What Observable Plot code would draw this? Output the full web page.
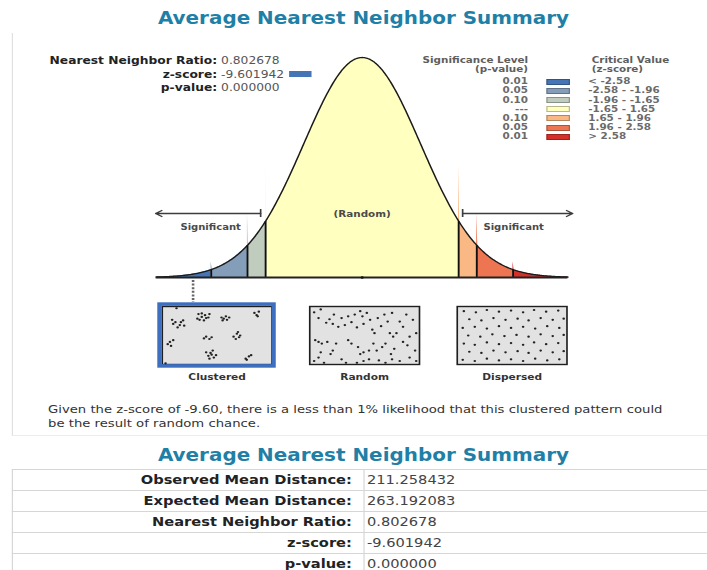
<!DOCTYPE html>
<html>
<head>
<meta charset="utf-8">
<script src="https://cdn.jsdelivr.net/npm/d3@7"></script>
<script src="https://cdn.jsdelivr.net/npm/@observablehq/plot@0.6"></script>
<style>
html,body{margin:0;padding:0;background:#fff;}
body{width:707px;height:570px;overflow:hidden;position:relative;}
#stage{position:absolute;left:0;top:0;width:599px;height:570px;transform:scaleX(1.18);transform-origin:0 0;font-family:"DejaVu Sans",Verdana,sans-serif;color:#333;}
.abs{position:absolute;white-space:nowrap;}
.title{left:0;width:616px;text-align:center;font-size:16.9px;line-height:20px;font-weight:bold;color:#1f7fa6;}
.panel{position:absolute;left:10.2px;top:33px;width:588.8px;height:402px;border-left:1px solid #e0e0e0;border-bottom:1px solid #ececec;}
.stat{left:0;font-size:10.4px;line-height:13.5px;}
.stat .lab{display:inline-block;width:184px;text-align:right;font-weight:bold;color:#222;}
.stat .val{margin-left:3.4px;color:#555;}
.zsw{display:inline-block;width:18.6px;height:6px;margin-left:4.2px;vertical-align:1px;}
.leg{font-size:8.8px;line-height:9px;font-weight:bold;color:#6a6a6a;}
.legR{left:347.5px;width:100px;text-align:right;}
.sw{position:absolute;left:463.3px;width:19.8px;height:6px;box-sizing:border-box;border:1px solid rgba(0,0,0,.28);}
.cap{left:40.7px;font-size:11.2px;line-height:13.5px;color:#333;}
.row{position:absolute;left:10.2px;width:588.8px;height:21px;border-top:1px solid #d6d6d6;box-sizing:border-box;}
.rlab{position:absolute;left:0;width:288px;text-align:right;font-weight:bold;font-size:12.4px;line-height:20px;color:#222;white-space:nowrap;}
.rval{position:absolute;left:300.8px;font-size:12.4px;line-height:20px;color:#444;white-space:nowrap;}
.vline{position:absolute;width:0;border-left:1px solid #d6d6d6;}
</style>
</head>
<body>
<div id="stage"></div>
<script>
// ---------- data ----------
const titleText = "Average Nearest Neighbor Summary";
const statLabels = ["Nearest Neighbor Ratio:", "z-score:", "p-value:"];
const statValues = ["0.802678", "-9.601942", "0.000000"];
const zScore = -9.601942;

const legendHeadLeft = ["Significance Level", "(p-value)"];
const legendHeadRight = ["Critical Value", "(z-score)"];
const pLevels = ["0.01", "0.05", "0.10", "---", "0.10", "0.05", "0.01"];
const zRanges = ["< -2.58", "-2.58 - -1.96", "-1.96 - -1.65", "-1.65 - 1.65", "1.65 - 1.96", "1.96 - 2.58", "> 2.58"];
const binColors = ["#4575b5", "#849eba", "#c0ccbe", "#ffffbf", "#fab984", "#ed7551", "#d62f27"];
const zBreaks = [-3.52, -2.58, -1.96, -1.65, 1.65, 1.96, 2.58, 3.52];

const sigArrows = [{from: -1.735, to: -3.53}, {from: 1.718, to: 3.60}];
const sigLabels = [{z: -2.59, text: "Significant"}, {z: 2.59, text: "Significant"}];
const randomLabel = "(Random)";
const indicatorZ = -2.89; // where the reference draws the off-scale z-score pointer

const patterns = ["Clustered", "Random", "Dispersed"];
const clusteredPts = [
 [9,23],[12,27],[16,32],[19,24],[20,33],[14,36],[10,30],[17,27],
 [33,13],[36,18],[39,15],[42,19],[34,23],[38,24],[43,13],[32,21],[40,20],[36,12],
 [54,19],[56,21],[59,23],[61,19],[55,24],[58,17],
 [84,11],[86,15],[88,9],[87,17],
 [5,65],[7,61],[10,58],[8,68],
 [38,55],[40,52],[43,56],[45,53],
 [65,52],[68,47],[70,53],[71,50],[67,56],[69,44],
 [40,79],[42,85],[44,80],[47,88],[49,84],[43,90],[46,76],[45,83],
 [76,90],[79,86],[81,84],[77,92],
 [13,3],[3,98]
];
const randomPts = [
 [4,10],[8,20],[10,5],[15,28],[18,22],[21,30],[22,14],[26,35],[29,20],[32,32],[35,17],[38,27],[41,14],[43,36],[46,8],[48,17],[49,30],[52,11],[55,23],[57,40],[59,46],[62,20],[65,34],[68,14],[71,26],[73,46],[75,11],[76,52],[79,46],[82,26],[85,35],[88,14],[91,52],[94,23],[97,46],
 [5,58],[8,61],[11,64],[16,61],[21,76],[24,64],[35,58],[38,64],[44,70],[46,82],[49,79],[54,76],[58,64],[61,76],[66,70],[69,64],[74,82],[77,73],[85,61],[89,67],[96,76],[10,79],
 [4,94],[8,88],[13,97],[19,82],[29,91],[33,97],[43,97],[49,94],[54,91],[63,93],[69,97],[75,91],[82,94],[91,88],[97,94]
];
const dispersedPts = [
 [6,8],[17,10],[27,6],[38,9],[49,7],[60,10],[70,6],[81,9],[92,7],
 [11,22],[22,24],[33,20],[44,23],[55,21],[65,24],[76,20],[87,23],[97,21],
 [5,37],[16,35],[27,38],[38,34],[49,37],[60,35],[71,38],[82,34],[93,37],
 [10,50],[21,52],[32,48],[43,51],[54,49],[65,52],[76,48],[87,51],[97,49],
 [6,64],[16,66],[27,62],[38,65],[49,63],[60,66],[70,62],[81,65],[92,63],
 [11,78],[22,80],[33,76],[44,79],[55,77],[65,80],[76,76],[87,79],[97,77],
 [5,92],[16,94],[27,90],[38,93],[49,91],[60,94],[71,90],[82,93],[93,91]
];

const captionLines = [
 "Given the z-score of -9.60, there is a less than 1% likelihood that this clustered pattern could",
 "be the result of random chance."
];
const summaryLabels = ["Observed Mean Distance:", "Expected Mean Distance:", "Nearest Neighbor Ratio:", "z-score:", "p-value:"];
const summaryValues = ["211.258432", "263.192083", "0.802678", "-9.601942", "0.000000"];

// ---------- helpers ----------
const stage = document.getElementById("stage");
function el(tag, cls, css, text) {
  const e = document.createElement(tag);
  if (cls) e.className = cls;
  if (css) Object.assign(e.style, css);
  if (text != null) e.textContent = text;
  stage.appendChild(e);
  return e;
}
const pdf = z => Math.exp(-z * z / 2) / Math.sqrt(2 * Math.PI);

// ---------- title ----------
el("div", "abs title", {top: "8px"}, titleText);

// ---------- bell curve plot ----------
const areaPts = [];
for (let i = 0; i < zBreaks.length - 1; i++) {
  const z0 = zBreaks[i], z1 = zBreaks[i + 1];
  const n = Math.max(2, Math.ceil((z1 - z0) / 0.02));
  for (let k = 0; k <= n; k++) {
    const z = z0 + (z1 - z0) * k / n;
    areaPts.push({bin: i, z, d: pdf(z)});
  }
}
const curvePts = [];
{
  const n = 400, a = zBreaks[0], b = zBreaks[zBreaks.length - 1];
  for (let k = 0; k <= n; k++) { const z = a + (b - a) * k / n; curvePts.push({z, d: pdf(z)}); }
}
const boundaries = zBreaks.slice(1, -1).map(z => ({z, d: pdf(z)}));
const peak = pdf(0);
const pxPerD = 220 / peak;            // plot inner height is 220px
const arrowY = 64 / pxPerD;
const randomY = 63 / pxPerD;
const labelY = 50 / pxPerD;
const tickH = 4 / pxPerD;
const dropTop = -3 / pxPerD;
const dropBottom = -25 / pxPerD;

const curvePlot = Plot.plot({
  width: 599, height: 265,
  marginLeft: 131.9, marginRight: 118.1, marginTop: 22, marginBottom: 23,
  x: {domain: [zBreaks[0], zBreaks[zBreaks.length - 1]], axis: null},
  y: {domain: [0, peak], axis: null},
  color: {type: "ordinal", domain: d3.range(binColors.length), range: binColors},
  style: {fontFamily: "DejaVu Sans, sans-serif", background: "none", overflow: "visible"},
  marks: [
    Plot.areaY(areaPts, {x: "z", y: "d", fill: "bin"}),
    Plot.line(curvePts, {x: "z", y: "d", stroke: "#1a1a1a", strokeWidth: 1.3}),
    Plot.link(boundaries, {x1: "z", x2: "z", y1: 0, y2: "d", stroke: "#111", strokeWidth: 1.6}),
    Plot.ruleY([0], {x1: zBreaks[0], x2: zBreaks[zBreaks.length - 1], stroke: "#222", strokeWidth: 1.8}),
    Plot.dot([0], {x: d => d, y: 0, r: 1.3, fill: "#111"}),
    Plot.ruleX([indicatorZ], {x: d => d, y1: dropTop, y2: dropBottom, stroke: "#666", strokeWidth: 2.2, strokeDasharray: "2,1.6"}),
    Plot.arrow(sigArrows, {x1: "from", x2: "to", y1: arrowY, y2: arrowY, stroke: "#3c3c3c", strokeWidth: 1.3, headLength: 7}),
    Plot.ruleX(sigArrows, {x: "from", y1: arrowY - tickH, y2: arrowY + tickH, stroke: "#3c3c3c", strokeWidth: 1.4}),
    Plot.text(sigLabels, {x: "z", y: labelY, text: "text", fontWeight: "bold", fontSize: 8.5, fill: "#4a4a4a"}),
    Plot.text([randomLabel], {x: 0, y: randomY, text: d => d, fontWeight: "bold", fontSize: 8.8, fill: "#4a4a4a"})
  ]
});
const curveBox = el("div", null, {position: "absolute", left: "0px", top: "35px", width: "599px", height: "265px"});
curveBox.appendChild(curvePlot);

// ---------- pattern boxes ----------
const patternPts = [
  ...clusteredPts.map(([x, y]) => ({pattern: "Clustered", x, y})),
  ...randomPts.map(([x, y]) => ({pattern: "Random", x, y})),
  ...dispersedPts.map(([x, y]) => ({pattern: "Dispersed", x, y}))
];
const boxPlot = Plot.plot({
  width: 599, height: 90,
  marginLeft: 136, marginRight: 118.5, marginTop: 6, marginBottom: 26,
  fx: {domain: patterns, paddingInner: 0.26, paddingOuter: 0, axis: null, label: null},
  x: {domain: [0, 100], axis: null},
  y: {domain: [0, 100], reverse: true, axis: null},
  style: {fontFamily: "DejaVu Sans, sans-serif", background: "none", overflow: "visible", color: "#333"},
  marks: [
    Plot.frame({fill: "#e2e2e2", stroke: "#1e1e1e", strokeWidth: 1.4}),
    Plot.rect([patterns[0]], {fx: d => d, x1: 0, x2: 100, y1: 0, y2: 100, inset: -1.9, fill: "none", stroke: "#3d6fc1", strokeWidth: 3.6}),
    Plot.dot(patternPts, {fx: "pattern", x: "x", y: "y", r: 1.1, fill: "#222"}),
    Plot.axisFx({anchor: "bottom", tickSize: 0, tickPadding: 9, label: null, fontSize: 9, fontWeight: "bold", fill: "#333"})
  ]
});
const boxesBox = el("div", null, {position: "absolute", left: "0px", top: "300px", width: "599px", height: "90px"});
boxesBox.appendChild(boxPlot);

// ---------- stats block ----------
statLabels.forEach((lab, i) => {
  const row = el("div", "abs stat", {top: (54.25 + i * 13.5) + "px"});
  const l = document.createElement("span"); l.className = "lab"; l.textContent = lab; row.appendChild(l);
  const v = document.createElement("span"); v.className = "val"; v.textContent = statValues[i]; row.appendChild(v);
  if (lab.startsWith("z-score")) {
    const bin = zBreaks.findIndex((b, k) => k > 0 && zScore < b) - 1;
    const sw = document.createElement("span"); sw.className = "zsw";
    sw.style.background = binColors[Math.max(0, bin)];
    row.appendChild(sw);
  }
});

// ---------- legend ----------
const headY = [60, 69.5];
legendHeadLeft.forEach((t, i) => el("div", "abs leg legR", {top: (headY[i] - 4.5) + "px", color: "#5e5e5e"}, t));
legendHeadRight.forEach((t, i) => el("div", "abs leg", {left: "501.4px", top: (headY[i] - 4.5) + "px", color: "#5e5e5e"}, t));
pLevels.forEach((p, i) => {
  const yc = 81.7 + i * 9.17;
  el("div", "abs leg legR", {top: (yc - 4.5) + "px"}, p);
  el("div", "sw", {top: (yc - 3) + "px", background: binColors[i]});
  el("div", "abs leg", {left: "498.5px", top: (yc - 4.5) + "px"}, zRanges[i]);
});

// ---------- caption ----------
captionLines.forEach((t, i) => el("div", "abs cap", {top: (403.3 + i * 13.5) + "px"}, t));

// ---------- panel border ----------
el("div", "panel");

// ---------- summary table ----------
el("div", "abs title", {top: "445px"}, titleText);
const rowTop = 468.5, rowH = 21;
summaryLabels.forEach((lab, i) => {
  const r = el("div", "row", {top: (rowTop + i * rowH) + "px"});
  const l = document.createElement("div"); l.className = "rlab"; l.textContent = lab; r.appendChild(l);
  const v = document.createElement("div"); v.className = "rval"; v.textContent = summaryValues[i]; r.appendChild(v);
});
el("div", "vline", {left: "307.6px", top: rowTop + "px", height: (570 - rowTop) + "px"});
el("div", "vline", {left: "10.2px", top: rowTop + "px", height: (570 - rowTop) + "px"});
</script>
</body>
</html>
